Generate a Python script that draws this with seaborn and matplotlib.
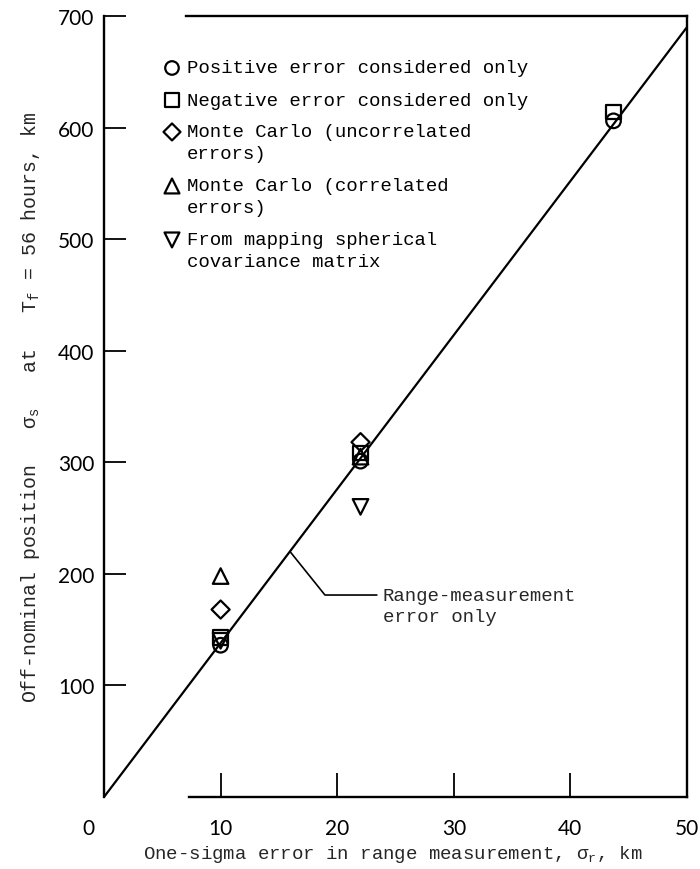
import matplotlib
matplotlib.use("Agg")
import matplotlib.pyplot as plt
import matplotlib.transforms as mtransforms
import seaborn as sns
import pandas as pd

# ---- data ----
sigma_r = [10, 22, 43.7]
positive_only = [136, 301, 606]          # circles
negative_only = [143, 308, 614]          # squares
mc_uncorrelated_x = [10, 22]
mc_uncorrelated = [168, 318]             # diamonds
mc_correlated_x = [10, 22]
mc_correlated = [198, 305]               # up triangles
mapping_x = [10, 22]
mapping = [140, 260]                     # down triangles
line_x = [0, 50]
line_y = [0, 690]

xticks = [0, 10, 20, 30, 40, 50]
yticks = [100, 200, 300, 400, 500, 600, 700]

legend_labels = [
    ["Positive error considered only"],
    ["Negative error considered only"],
    ["Monte Carlo (uncorrelated", "errors)"],
    ["Monte Carlo (correlated", "errors)"],
    ["From mapping spherical", "covariance matrix"],
]

sns.set_theme(style="white")
plt.rcParams["font.family"] = ["Liberation Mono", "DejaVu Sans"]
plt.rcParams["mathtext.fontset"] = "custom"
plt.rcParams["mathtext.rm"] = "Liberation Mono"
plt.rcParams["mathtext.it"] = "Liberation Mono"

fig = plt.figure(figsize=(7, 8.7), dpi=100)
ax = fig.add_axes([0.1486, 0.0828, 0.8328, 0.8977])

# reference line
sns.lineplot(x=line_x, y=line_y, ax=ax, color="black", lw=1.6)

series = [
    (sigma_r, positive_only, "o", 110),
    (sigma_r, negative_only, "s", 105),
    (mc_uncorrelated_x, mc_uncorrelated, "D", 85),
    (mc_correlated_x, mc_correlated, "^", 125),
    (mapping_x, mapping, "v", 125),
]
for xs, ys, m, s in series:
    df = pd.DataFrame({"x": xs, "y": ys})
    sns.scatterplot(data=df, x="x", y="y", ax=ax, marker=m, s=s,
                    facecolor="none", edgecolor="black", linewidth=1.6,
                    zorder=3)

ax.set_xlim(0, 50)
ax.set_ylim(0, 700)
ax.set_xticks(xticks)
ax.set_yticks(yticks)
ax.set_xticklabels([str(v) for v in xticks], fontfamily="Lato", fontsize=15)
ax.set_yticklabels([str(v) for v in yticks], fontfamily="Lato", fontsize=15)
ax.tick_params(axis="y", left=True, direction="in", length=16, width=1.3,
               pad=7, colors="black")
ax.tick_params(axis="x", bottom=True, direction="in", length=17, width=1.3,
               pad=15, colors="black")
ax.set_xlabel("")
ax.set_ylabel("")

# shift the "0" x label slightly left as in the reference
lab0 = ax.get_xticklabels()[0]
lab0.set_transform(lab0.get_transform() +
                   mtransforms.ScaledTranslation(-0.16, 0, fig.dpi_scale_trans))

for side in ["left", "right", "top", "bottom"]:
    ax.spines[side].set_color("black")
    ax.spines[side].set_linewidth(1.7)
ax.spines["bottom"].set_bounds(7.3, 50)
ax.spines["top"].set_bounds(7.0, 50)

# legend drawn manually
leg_y = [0.9334, 0.8924, 0.8515, 0.7823, 0.7132]
markers = ["o", "s", "D", "^", "v"]
sizes = [95, 95, 75, 115, 115]
line_step = 0.028
for yy, m, sz, lines in zip(leg_y, markers, sizes, legend_labels):
    ax.scatter([0.1166], [yy], marker=m, s=sz, facecolor="none",
               edgecolor="black", linewidth=1.6, transform=ax.transAxes,
               clip_on=False, zorder=4)
    for i, t in enumerate(lines):
        ax.text(0.142, yy - i * line_step, t, transform=ax.transAxes,
                fontsize=13.7, va="center", ha="left", color="black")

# annotation for the line
ax.plot([15.95, 18.95, 23.4], [220, 181, 181], color="black", lw=1.2)
ax.text(23.9, 181, "Range-measurement", fontsize=13.7, va="center", ha="left")
ax.text(23.9, 162, "error only", fontsize=13.7, va="center", ha="left")

# axis titles
fig.text(0.561, 0.018, r"One-sigma error in range measurement, $\sigma_r$, km",
         ha="center", va="center", fontsize=13.7)
fig.text(0.043, 0.532,
         r"Off-nominal position   $\sigma_s$   at   $T_f$ = 56 hours, km",
         ha="center", va="center", rotation=90, fontsize=14.3)

fig.savefig("out.png", dpi=100, facecolor="white")
